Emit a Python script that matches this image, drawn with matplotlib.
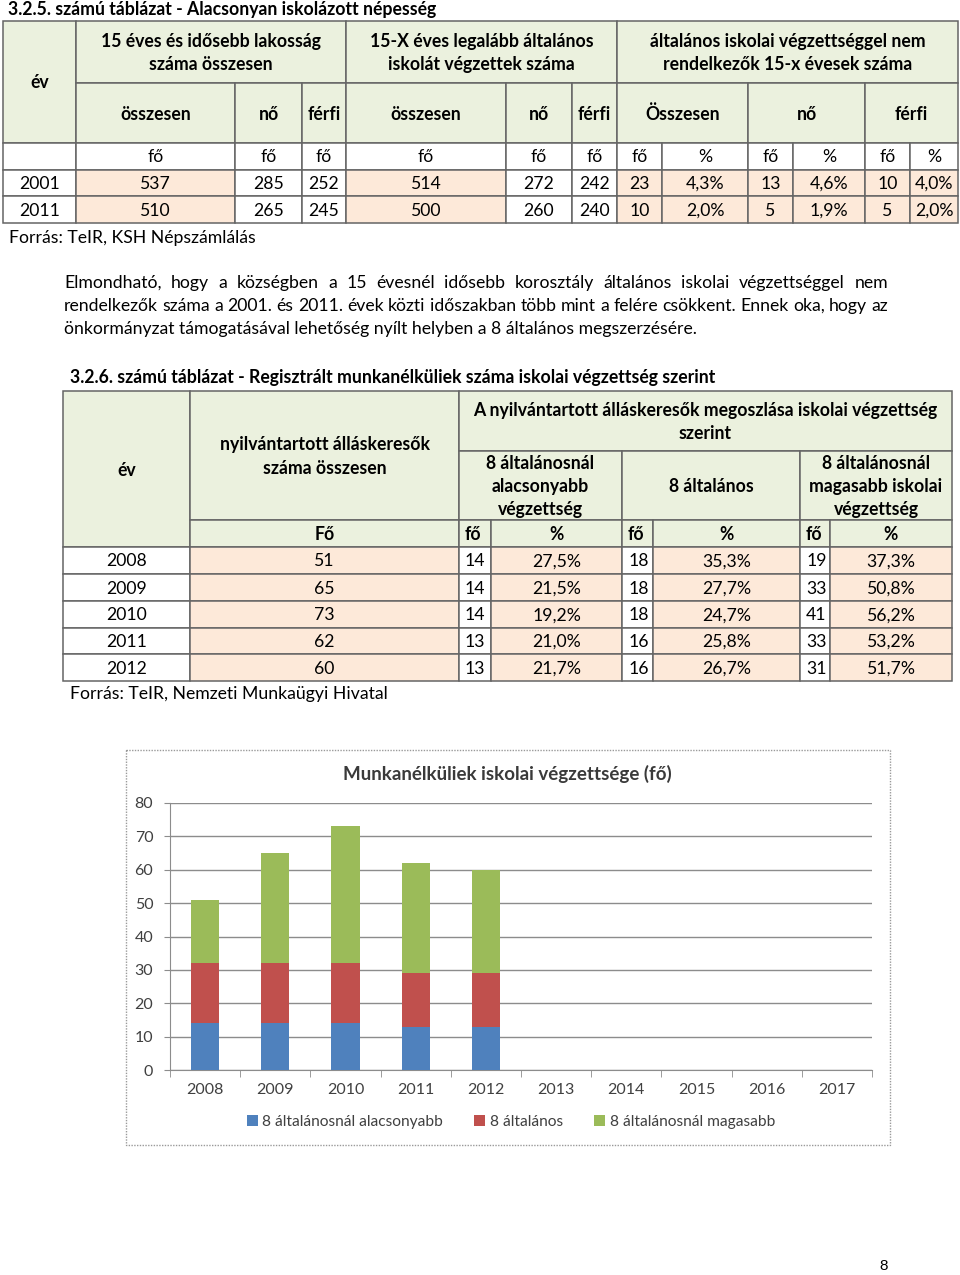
import matplotlib
matplotlib.use("Agg")
import matplotlib.pyplot as plt
from matplotlib.patches import Rectangle

plt.rcParams['font.family'] = ['Lato', 'DejaVu Sans']

# ---------------- data ----------------
t1_title = "3.2.5. számú táblázat - Alacsonyan iskolázott népesség"
t1_years = ['2001', '2011']
t1_total = [537, 510]
t1_female = [285, 265]
t1_male = [252, 245]
t1_prim_total = [514, 500]
t1_prim_female = [272, 260]
t1_prim_male = [242, 240]
t1_low_total = [23, 10]
t1_low_total_pct = ['4,3%', '2,0%']
t1_low_female = [13, 5]
t1_low_female_pct = ['4,6%', '1,9%']
t1_low_male = [10, 5]
t1_low_male_pct = ['4,0%', '2,0%']
t1_source = "Forrás: TeIR, KSH Népszámlálás"

paragraph = [
    "Elmondható, hogy a községben a 15 évesnél idősebb korosztály általános iskolai végzettséggel nem",
    "rendelkezők száma a 2001. és 2011. évek közti időszakban több mint a felére csökkent. Ennek oka, hogy az",
    "önkormányzat támogatásával lehetőség nyílt helyben a 8 általános megszerzésére.",
]

t2_title = "3.2.6. számú táblázat - Regisztrált munkanélküliek száma iskolai végzettség szerint"
t2_years = ['2008', '2009', '2010', '2011', '2012']
t2_total = [51, 65, 73, 62, 60]
t2_below = [14, 14, 14, 13, 13]
t2_below_pct = ['27,5%', '21,5%', '19,2%', '21,0%', '21,7%']
t2_eight = [18, 18, 18, 16, 16]
t2_eight_pct = ['35,3%', '27,7%', '24,7%', '25,8%', '26,7%']
t2_above = [19, 33, 41, 33, 31]
t2_above_pct = ['37,3%', '50,8%', '56,2%', '53,2%', '51,7%']
t2_source = "Forrás: TeIR, Nemzeti Munkaügyi Hivatal"

chart_title = "Munkanélküliek iskolai végzettsége (fő)"
chart_categories = ['2008', '2009', '2010', '2011', '2012', '2013', '2014', '2015', '2016', '2017']
series_names = ['8 általánosnál alacsonyabb', '8 általános', '8 általánosnál magasabb']
page_number = "8"

# ---------------- styles ----------------
GREEN = '#EBF1DE'
PEACH = '#FDE9D9'
WHITE = '#FFFFFF'
LINE = '#656565'
FS = 12.7
LS = 1.45
colors = ['#4F81BD', '#C0504D', '#9BBB59']

fig = plt.figure(figsize=(9.6, 12.75), dpi=100)
ax = fig.add_axes([0, 0, 1, 1])
ax.set_xlim(0, 960)
ax.set_ylim(1275, 0)
ax.axis('off')


def cell(x0, y0, x1, y1, fill, text='', bold=False, ha='center', pad=5, fs=FS):
    ax.add_patch(Rectangle((x0, y0), x1 - x0, y1 - y0, facecolor=fill,
                           edgecolor=LINE, linewidth=1.1))
    if text != '':
        if ha == 'center':
            tx = (x0 + x1) / 2
        elif ha == 'left':
            tx = x0 + pad
        else:
            tx = x1 - pad
        ax.text(tx, (y0 + y1) / 2 + 1, str(text), ha=ha, va='center', fontsize=fs,
                fontweight='bold' if bold else 'normal', color='black',
                linespacing=LS, multialignment='center')


# ---------------- table 1 ----------------
ax.text(8, 10, t1_title, ha='left', va='center', fontsize=FS, fontweight='bold')
cx = [3, 76, 235, 302, 346, 506, 572, 617, 662, 748, 793, 865, 910, 958]
ry = [21, 83, 143, 170, 196, 223]

cell(cx[0], ry[0], cx[1], ry[2], GREEN, 'év', True)
cell(cx[1], ry[0], cx[4], ry[1], GREEN, '15 éves és idősebb lakosság\nszáma összesen', True)
cell(cx[4], ry[0], cx[7], ry[1], GREEN, '15-X éves legalább általános\niskolát végzettek száma', True)
cell(cx[7], ry[0], cx[13], ry[1], GREEN, 'általános iskolai végzettséggel nem\nrendelkezők 15-x évesek száma', True)
sub = [(1, 2, 'összesen'), (2, 3, 'nő'), (3, 4, 'férfi'), (4, 5, 'összesen'), (5, 6, 'nő'),
       (6, 7, 'férfi'), (7, 9, 'Összesen'), (9, 11, 'nő'), (11, 13, 'férfi')]
for a, b, t in sub:
    cell(cx[a], ry[1], cx[b], ry[2], GREEN, t, True)
units1 = ['', 'fő', 'fő', 'fő', 'fő', 'fő', 'fő', 'fő', '%', 'fő', '%', 'fő', '%']
for i, u in enumerate(units1):
    cell(cx[i], ry[2], cx[i + 1], ry[3], WHITE, u)
fills1 = [WHITE, PEACH, WHITE, WHITE, PEACH, WHITE, WHITE, PEACH, PEACH, PEACH, PEACH, PEACH, PEACH]
for r in range(len(t1_years)):
    vals = [t1_years[r], t1_total[r], t1_female[r], t1_male[r], t1_prim_total[r],
            t1_prim_female[r], t1_prim_male[r], t1_low_total[r], t1_low_total_pct[r],
            t1_low_female[r], t1_low_female_pct[r], t1_low_male[r], t1_low_male_pct[r]]
    for i, v in enumerate(vals):
        cell(cx[i], ry[3 + r], cx[i + 1], ry[4 + r], fills1[i], v)
ax.text(9, 238, t1_source, ha='left', va='center', fontsize=FS)

# ---------------- paragraph (justified) ----------------
fig.canvas.draw()
renderer = fig.canvas.get_renderer()
py = [283, 306, 329]
for li, line in enumerate(paragraph):
    if li < len(paragraph) - 1:
        words = line.split(' ')
        objs = [ax.text(0, py[li], w, ha='left', va='center', fontsize=FS) for w in words]
        widths = [o.get_window_extent(renderer).width for o in objs]
        gap = (888 - 64 - sum(widths)) / (len(words) - 1)
        x = 64
        for o, w in zip(objs, widths):
            o.set_x(x)
            x += w + gap
    else:
        ax.text(64, py[li], line, ha='left', va='center', fontsize=FS)

# ---------------- table 2 ----------------
ax.text(70, 378, t2_title, ha='left', va='center', fontsize=FS, fontweight='bold')
dx = [63, 190, 459, 491, 622, 653, 800, 830, 952]
dy = [391, 451, 520, 547, 574, 601, 628, 654, 681]
cell(dx[0], dy[0], dx[1], dy[3], GREEN, 'év', True)
cell(dx[1], dy[0], dx[2], dy[2], GREEN, 'nyilvántartott álláskeresők\nszáma összesen', True)
cell(dx[2], dy[0], dx[8], dy[1], GREEN, 'A nyilvántartott álláskeresők megoszlása iskolai végzettség\nszerint', True)
cell(dx[2], dy[1], dx[4], dy[2], GREEN, '8 általánosnál\nalacsonyabb\nvégzettség', True)
cell(dx[4], dy[1], dx[6], dy[2], GREEN, '8 általános', True)
cell(dx[6], dy[1], dx[8], dy[2], GREEN, '8 általánosnál\nmagasabb iskolai\nvégzettség', True)
units2 = ['Fő', 'fő', '%', 'fő', '%', 'fő', '%']
for i, u in enumerate(units2):
    cell(dx[i + 1], dy[2], dx[i + 2], dy[3], GREEN, u, True,
         ha='left' if u == 'fő' else 'center', pad=6)
fills2 = [WHITE, PEACH, WHITE, PEACH, WHITE, PEACH, WHITE, PEACH]
for r in range(len(t2_years)):
    vals = [t2_years[r], t2_total[r], t2_below[r], t2_below_pct[r], t2_eight[r],
            t2_eight_pct[r], t2_above[r], t2_above_pct[r]]
    for i, v in enumerate(vals):
        cell(dx[i], dy[3 + r], dx[i + 1], dy[4 + r], fills2[i], v,
             ha='left' if i in (2, 4, 6) else 'center', pad=6)
ax.text(70, 694, t2_source, ha='left', va='center', fontsize=FS)

# ---------------- chart ----------------
ax.add_patch(Rectangle((126, 750), 890 - 126, 1145 - 750, facecolor='white',
                       edgecolor='#9a9a9a', linewidth=1.0, linestyle=(0, (1, 1))))
ax.text(507, 774, chart_title, ha='center', va='center', fontsize=13.5,
        fontweight='bold', color='#3a3a3a')
W, H = 960, 1275
cax = fig.add_axes([170 / W, 1 - 1070 / H, (872 - 170) / W, (1070 - 803) / H])
n = len(t2_years)
xs = list(range(n))
bottom = [0] * n
for vals, c, name in zip([t2_below, t2_eight, t2_above], colors, series_names):
    cax.bar(xs, vals, width=0.4, bottom=bottom, color=c, label=name, zorder=3)
    bottom = [b + v for b, v in zip(bottom, vals)]
cax.set_xlim(-0.5, len(chart_categories) - 0.5)
cax.set_ylim(0, 80)
cax.set_yticks(range(0, 81, 10))
cax.set_xticks(range(len(chart_categories)))
cax.set_xticklabels(chart_categories)
cax.set_xticks([i - 0.5 for i in range(len(chart_categories) + 1)], minor=True)
cax.grid(axis='y', color='#8c8c8c', linewidth=1.0, zorder=0)
for s in ['top', 'right']:
    cax.spines[s].set_visible(False)
cax.spines['left'].set_color('#8c8c8c')
cax.spines['bottom'].set_color('#8c8c8c')
cax.tick_params(axis='x', which='major', length=0, pad=9, labelsize=11.5, labelcolor='#404040')
cax.tick_params(axis='x', which='minor', length=5, color='#8c8c8c')
cax.tick_params(axis='y', length=4, color='#8c8c8c', labelsize=11.5, labelcolor='#404040', pad=8)
fig.legend(loc='center', bbox_to_anchor=(511 / W, 1 - 1122 / H), ncol=3, frameon=False,
           fontsize=11.2, handlelength=0.7, handleheight=0.7, handletextpad=0.3,
           columnspacing=2.0, labelcolor='#404040')

ax.text(884, 1266, page_number, ha='center', va='center', fontsize=11, family='Liberation Sans')

fig.savefig('out.png', dpi=100)
